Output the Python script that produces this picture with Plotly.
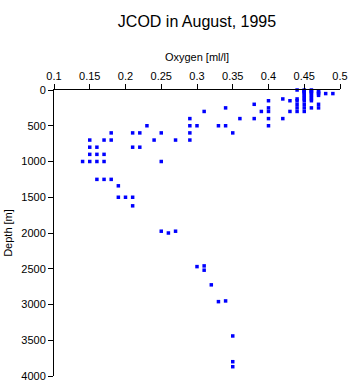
import plotly.graph_objects as go

# Oxygen [ml/l] and Depth [m]
oxygen = [
    0.44, 0.44, 0.44, 0.44, 0.44, 0.44,
    0.45, 0.45, 0.45, 0.45, 0.45, 0.45, 0.45, 0.45, 0.45, 0.45, 0.45, 0.45,
    0.46, 0.46, 0.46, 0.46, 0.46, 0.46, 0.46, 0.46, 0.46, 0.46,
    0.47, 0.47, 0.47, 0.47, 0.47, 0.47,
    0.48, 0.49,
    0.42, 0.43, 0.43, 0.40, 0.40, 0.38, 0.39, 0.40, 0.34, 0.31,
    0.36, 0.38, 0.40, 0.42,
    0.33, 0.34, 0.40,
    0.35,
    0.29, 0.29, 0.30, 0.29, 0.29, 0.23, 0.18, 0.21, 0.22, 0.25,
    0.15, 0.17, 0.18, 0.24, 0.27,
    0.15, 0.16, 0.21, 0.22,
    0.15, 0.16, 0.17,
    0.14, 0.15, 0.16, 0.17, 0.25,
    0.16, 0.17, 0.18, 0.19, 0.19, 0.20, 0.21, 0.21,
    0.25, 0.26, 0.27,
    0.30, 0.31, 0.31, 0.32, 0.33, 0.34,
    0.35, 0.35, 0.35,
]
depth = [
    0, 125, 150, 200, 250, 300,
    0, 10, 20, 30, 50, 75, 100, 125, 150, 200, 250, 300,
    0, 10, 20, 30, 50, 75, 100, 125, 150, 250,
    20, 30, 50, 75, 200, 250,
    50, 50,
    125, 150, 300, 150, 250, 200, 300, 300, 250, 300,
    400, 400, 400, 400,
    500, 500, 500,
    600,
    400, 500, 500, 600, 700, 500, 600, 600, 600, 600,
    700, 700, 700, 700, 700,
    800, 800, 800, 800,
    900, 900, 900,
    1000, 1000, 1000, 1000, 1000,
    1250, 1250, 1250, 1340, 1500, 1500, 1500, 1620,
    1975, 2000, 1975,
    2470, 2460, 2520, 2725, 2960, 2950,
    3440, 3800, 3870,
]

x_ticks = [0.1, 0.15, 0.2, 0.25, 0.3, 0.35, 0.4, 0.45, 0.5]
y_ticks = [0, 500, 1000, 1500, 2000, 2500, 3000, 3500, 4000]

font_family = "Liberation Sans, Arial, sans-serif"

fig = go.Figure(
    go.Scatter(
        x=oxygen,
        y=depth,
        mode="markers",
        marker=dict(symbol="square", size=3.5, color="#0000ff", line=dict(width=0)),
        cliponaxis=False,
        showlegend=False,
    )
)

fig.update_layout(
    width=350,
    height=384,
    autosize=False,
    margin=dict(l=54, r=10, t=90, b=8, pad=0, autoexpand=False),
    paper_bgcolor="white",
    plot_bgcolor="white",
    font=dict(family=font_family, size=11, color="black"),
    title=dict(
        text="JCOD in August, 1995",
        x=197 / 350,
        xanchor="center",
        y=1 - 21 / 384,
        yanchor="middle",
        xref="container",
        yref="container",
        automargin=False,
        font=dict(size=16, family=font_family, color="black"),
    ),
)

fig.update_xaxes(
    side="top",
    range=[0.1, 0.5],
    tickvals=x_ticks,
    ticktext=[f"{v:g}" for v in x_ticks],
    showline=True,
    linecolor="black",
    linewidth=1,
    ticks="outside",
    ticklen=5,
    tickcolor="black",
    showgrid=False,
    zeroline=False,
    automargin=False,
    title=dict(text="Oxygen [ml/l]", standoff=5, font=dict(size=11)),
    tickfont=dict(size=11),
)
fig.update_yaxes(
    range=[4000, 0],
    tickvals=y_ticks,
    ticktext=[str(v) for v in y_ticks],
    showline=True,
    linecolor="black",
    linewidth=1,
    ticks="outside",
    ticklen=5,
    tickcolor="black",
    showgrid=False,
    zeroline=False,
    automargin=False,
    title=dict(text="Depth [m]", standoff=6, font=dict(size=11)),
    tickfont=dict(size=11),
)

fig.write_html("out.html")
